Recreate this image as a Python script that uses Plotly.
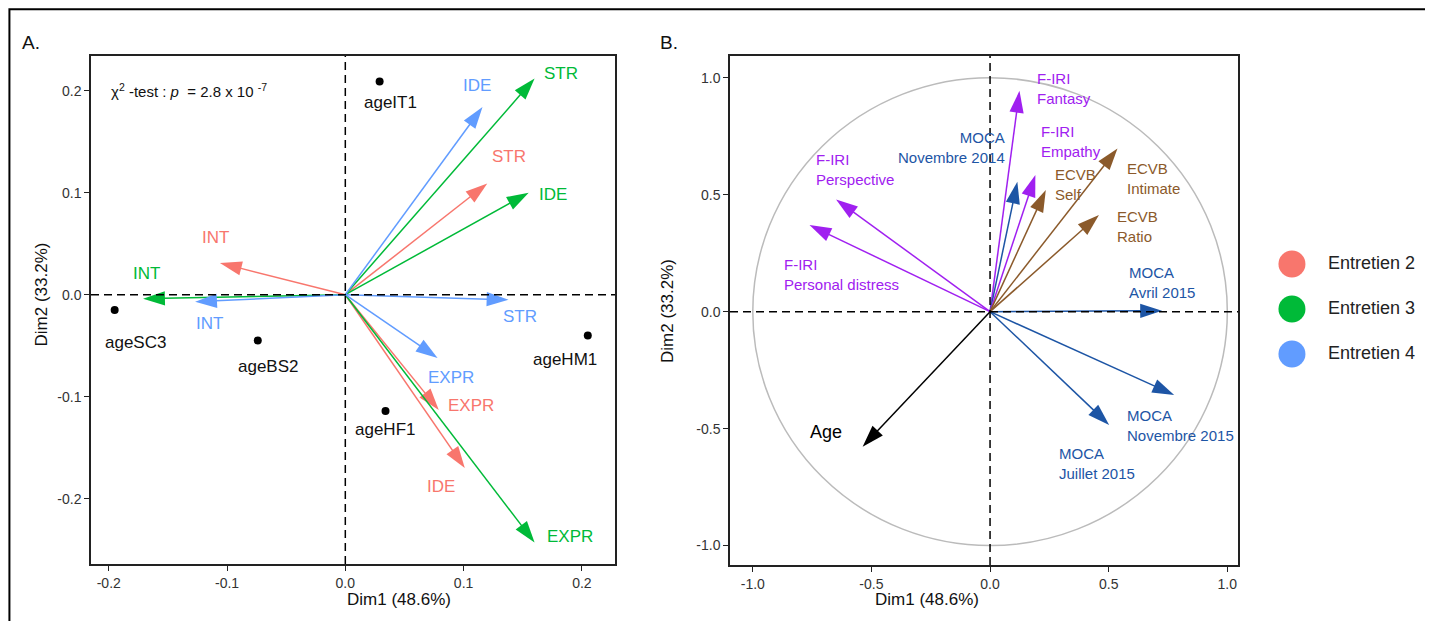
import plotly.graph_objects as go

# ---------------- panel A : individuals ----------------
ind_names = ["ageIT1", "ageSC3", "ageBS2", "ageHM1", "ageHF1"]
ind_x = [0.029, -0.195, -0.074, 0.205, 0.034]
ind_y = [0.209, -0.015, -0.045, -0.040, -0.114]

# ---------------- panel A : variables per interview ----------------
groups = ["Entretien 2", "Entretien 3", "Entretien 4"]
var_names = ["INT", "STR", "EXPR", "IDE"]
e2_x = [-0.106, 0.120, 0.079, 0.101]
e2_y = [0.031, 0.109, -0.113, -0.170]
e3_x = [-0.171, 0.160, 0.160, 0.155]
e3_y = [-0.004, 0.212, -0.243, 0.100]
e4_x = [-0.127, 0.138, 0.078, 0.116]
e4_y = [-0.007, -0.005, -0.062, 0.184]

# ---------------- panel B : correlation circle ----------------
b_names = ["F-IRI<br>Fantasy", "MOCA<br>Novembre 2014", "F-IRI<br>Empathy",
           "ECVB<br>Self", "ECVB<br>Intimate", "ECVB<br>Ratio",
           "F-IRI<br>Perspective", "F-IRI<br>Personal distress",
           "MOCA<br>Avril 2015", "MOCA<br>Novembre 2015", "MOCA<br>Juillet 2015", "Age"]
b_family = ["F-IRI", "MOCA", "F-IRI", "ECVB", "ECVB", "ECVB",
            "F-IRI", "F-IRI", "MOCA", "MOCA", "MOCA", "Age"]
b_x = [0.124, 0.115, 0.191, 0.235, 0.537, 0.459, -0.649, -0.761, 0.725, 0.776, 0.502, -0.537]
b_y = [0.944, 0.555, 0.584, 0.520, 0.698, 0.413, 0.480, 0.370, 0.004, -0.356, -0.484, -0.577]

a_ticks_x = [-0.2, -0.1, 0.0, 0.1, 0.2]
a_ticks_y = [-0.2, -0.1, 0.0, 0.1, 0.2]
b_ticks = [-1.0, -0.5, 0.0, 0.5, 1.0]

# ---------------- styling / label placement ----------------
FONT = "Liberation Sans, Arial, Helvetica, sans-serif"
grp_colors = {"Entretien 2": "#F8766D", "Entretien 3": "#00BA38", "Entretien 4": "#619CFF"}
fam_colors = {"F-IRI": "#A020F0", "MOCA": "#1D55A5", "ECVB": "#8B5A2B", "Age": "#000000"}

# label anchor positions (data units), same order as the arrays above
a_lab = {
    "Entretien 2": [(-0.110, 0.056), (0.138, 0.135), (0.106, -0.109), (0.081, -0.188)],
    "Entretien 3": [(-0.168, 0.021), (0.182, 0.217), (0.190, -0.237), (0.176, 0.098)],
    "Entretien 4": [(-0.115, -0.028), (0.148, -0.021), (0.089, -0.081), (0.111, 0.205)],
}
ind_lab = [(0.038, 0.188), (-0.177, -0.047), (-0.065, -0.070), (0.186, -0.064), (0.0335, -0.132)]
b_lab = [(0.191, 0.955, "left"), (0.073, 0.702, "right"), (0.206, 0.726, "left"),
         (0.267, 0.544, "left"), (0.570, 0.569, "left"), (0.528, 0.363, "left"),
         (-0.740, 0.606, "left"), (-0.878, 0.160, "left"), (0.578, 0.125, "left"),
         (0.570, -0.488, "left"), (0.284, -0.647, "left"), (-0.693, -0.513, "center")]

# the page body has an 8px margin, so the figure is placed 8px in from the top-left
OFF = 8
W, H = 1433 - OFF, 629 - 2 * OFF


def px(x):
    return (x - OFF) / W


def py(y):
    return 1 - (y - OFF) / H


fig = go.Figure()


def arrow(x, y, color, xa, ya, width=1.5, size=23):
    fig.add_trace(go.Scatter(
        x=[0, x], y=[0, y], xaxis=xa, yaxis=ya, mode="lines+markers",
        line=dict(color=color, width=width),
        marker=dict(symbol="arrow", size=[0, size], angleref="previous", color=color,
                    opacity=1, line=dict(width=0)),
        showlegend=False, hoverinfo="skip"))


series = {"Entretien 2": (e2_x, e2_y), "Entretien 3": (e3_x, e3_y), "Entretien 4": (e4_x, e4_y)}
annotations = []

# panel A arrows + labels
for g in groups:
    xs, ys = series[g]
    for i, v in enumerate(var_names):
        arrow(xs[i], ys[i], grp_colors[g], "x", "y")
        lx, ly = a_lab[g][i]
        annotations.append(dict(x=lx, y=ly, xref="x", yref="y", text=v, showarrow=False,
                                font=dict(size=17, color=grp_colors[g], family=FONT)))

# panel A individuals
fig.add_trace(go.Scatter(x=ind_x, y=ind_y, xaxis="x", yaxis="y", mode="markers",
                         marker=dict(color="black", size=8, line=dict(width=0)),
                         showlegend=False, hoverinfo="skip"))
for n, (lx, ly) in zip(ind_names, ind_lab):
    annotations.append(dict(x=lx, y=ly, xref="x", yref="y", text=n, showarrow=False,
                            font=dict(size=17, color="#111", family=FONT)))

annotations.append(dict(x=0.035, y=0.955, xref="x domain", yref="y domain", xanchor="left",
                        text="χ<sup>2</sup> -test : <i>p</i>  = 2.8 x 10 <sup>-7</sup>",
                        showarrow=False, font=dict(size=15, color="#111", family=FONT)))

# panel B arrows + labels
for i, n in enumerate(b_names):
    c = fam_colors[b_family[i]]
    arrow(b_x[i], b_y[i], c, "x2", "y2")
    lx, ly, al = b_lab[i]
    annotations.append(dict(x=lx, y=ly, xref="x2", yref="y2", text=n, showarrow=False,
                            xanchor=al, align=al,
                            font=dict(size=18 if n == "Age" else 15, color=c, family=FONT)))

# legend drawn on its own small axes
fig.add_trace(go.Scatter(x=[0.18] * 3, y=groups, xaxis="x3", yaxis="y3", mode="markers",
                         marker=dict(size=27, color=[grp_colors[g] for g in groups],
                                     line=dict(width=0)),
                         showlegend=False, hoverinfo="skip"))
fig.add_trace(go.Scatter(x=[0.39] * 3, y=groups, xaxis="x3", yaxis="y3", mode="text",
                         text=groups, textposition="middle right",
                         textfont=dict(size=18, color="#222", family=FONT),
                         showlegend=False, hoverinfo="skip"))

# panel letters and axis titles
for txt, lx in [("A.", 20), ("B.", 658)]:
    annotations.append(dict(x=px(lx), y=py(30), xref="paper", yref="paper", text=txt,
                            xanchor="left", showarrow=False,
                            font=dict(size=19, color="#111", family=FONT)))
for cx, cy in [(345, 611), (981, 611)]:
    annotations.append(dict(x=px(cx), y=py(cy), xref="paper", yref="paper",
                            text="Dim1 (48.6%)", showarrow=False,
                            font=dict(size=17, color="#111", family=FONT)))
for cx, cy in [(30, 295), (667, 311)]:
    annotations.append(dict(x=px(cx), y=py(cy), xref="paper", yref="paper",
                            text="Dim2 (33.2%)", textangle=-90, showarrow=False,
                            font=dict(size=17, color="#111", family=FONT)))

dash = dict(color="black", width=1.5, dash="8px,5px")
shapes = [
    dict(type="circle", xref="x2", yref="y2", x0=-1, x1=1, y0=-1, y1=1,
         line=dict(color="#BBBBBB", width=1.5), layer="below"),
    dict(type="line", xref="x", yref="y domain", x0=0, x1=0, y0=0, y1=1, line=dash),
    dict(type="line", xref="x domain", yref="y", x0=0, x1=1, y0=0, y1=0, line=dash),
    dict(type="line", xref="x2", yref="y2 domain", x0=0, x1=0, y0=0, y1=1, line=dash),
    dict(type="line", xref="x2 domain", yref="y2", x0=0, x1=1, y0=0, y1=0, line=dash),
    dict(type="rect", xref="paper", yref="paper", x0=0.001, x1=px(1428), y0=-0.05, y1=0.998,
         line=dict(color="black", width=2)),
]

ax_common = dict(showline=True, mirror=True, linecolor="#222", linewidth=1.5,
                 ticks="outside", ticklen=5, tickwidth=1.2, tickcolor="#222",
                 showgrid=False, zeroline=False,
                 tickfont=dict(size=14, color="#333", family=FONT))

fig.update_layout(
    width=W, height=H, margin=dict(l=0, r=0, t=0, b=0),
    template="none", paper_bgcolor="white", plot_bgcolor="white",
    showlegend=False,
    xaxis=dict(domain=[px(91), px(615)], range=[-0.215, 0.228], anchor="y",
               tickvals=a_ticks_x, ticktext=[f"{v:.1f}" for v in a_ticks_x], **ax_common),
    yaxis=dict(domain=[py(564), py(56)], range=[-0.264, 0.234], anchor="x",
               tickvals=a_ticks_y, ticktext=[f"{v:.1f}" for v in a_ticks_y], **ax_common),
    xaxis2=dict(domain=[px(730), px(1238)], range=[-1.096, 1.045], anchor="y2",
                tickvals=b_ticks, ticktext=[f"{v:.1f}" for v in b_ticks], **ax_common),
    yaxis2=dict(domain=[py(565), py(56)], range=[-1.083, 1.093], anchor="x2",
                tickvals=b_ticks, ticktext=[f"{v:.1f}" for v in b_ticks], **ax_common),
    xaxis3=dict(domain=[px(1261), 1.0], range=[0, 1], visible=False, anchor="y3"),
    yaxis3=dict(domain=[py(376.5), py(241.5)], range=[2.5, -0.5], type="category",
                categoryarray=groups, visible=False, anchor="x3"),
    shapes=shapes, annotations=annotations,
)

fig.write_html("out.html")
